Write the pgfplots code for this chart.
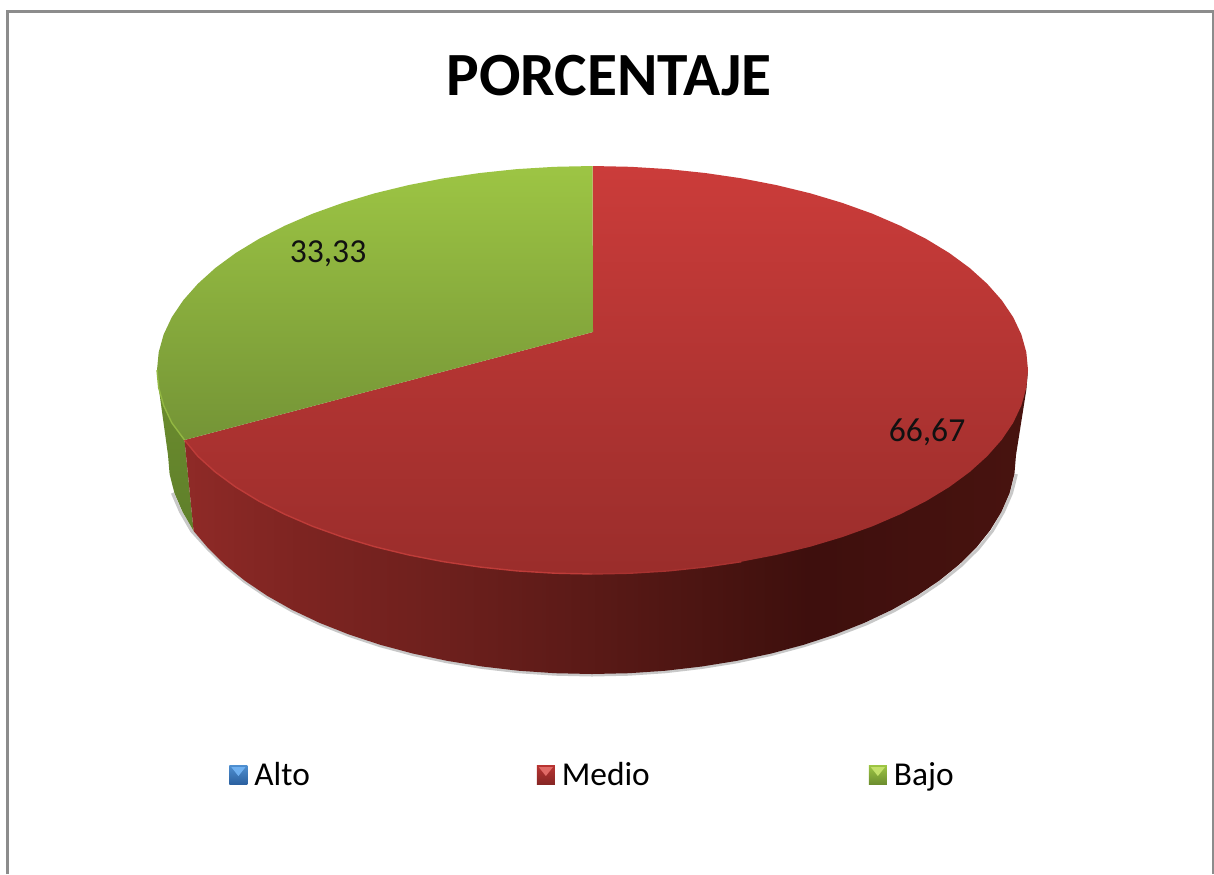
\documentclass[border=0pt]{standalone}
\usepackage{pgfplots}
\pgfplotsset{compat=1.18}
\usepackage{fontspec}
\setmainfont{Carlito}
\definecolor{rs1}{HTML}{8F2A27}
\definecolor{rs2}{HTML}{7D2421}
\definecolor{rs3}{HTML}{6E201D}
\definecolor{rs4}{HTML}{581916}
\definecolor{rs5}{HTML}{42110E}
\definecolor{rs6}{HTML}{3E0F0D}
\definecolor{rs7}{HTML}{48130F}
\definecolor{redtop}{HTML}{CB3C3A}
\definecolor{redbot}{HTML}{9A2D2B}
\definecolor{greentop}{HTML}{9DC544}
\definecolor{greenbot}{HTML}{749436}
\definecolor{greenside}{HTML}{6B8C2E}
\definecolor{greensideb}{HTML}{5F7F2A}
\definecolor{redrim}{HTML}{BE3C39}
\definecolor{redrimb}{HTML}{A83230}
\definecolor{greenrim}{HTML}{93B842}
\definecolor{frame}{HTML}{8C8C8C}
\definecolor{shadow}{HTML}{C8C8C8}
\definecolor{ink}{HTML}{111111}
\definecolor{bluet}{HTML}{4F8FD0}
\definecolor{blueb}{HTML}{2A5F9E}
\definecolor{bluel}{HTML}{6FB0F0}
\definecolor{redt}{HTML}{B83432}
\definecolor{redb}{HTML}{852624}
\definecolor{redl}{HTML}{E06A66}
\definecolor{grnt}{HTML}{9DC544}
\definecolor{grnb}{HTML}{6B8C2E}
\definecolor{grnl}{HTML}{C3E06A}
\pgfdeclarehorizontalshading{redside}{100bp}{
  color(0bp)=(rs1); color(25bp)=(rs1); color(32bp)=(rs2); color(40bp)=(rs3);
  color(50bp)=(rs4); color(60bp)=(rs5); color(62bp)=(rs6); color(75bp)=(rs7); color(100bp)=(rs7)}
\newcommand{\lgdkey}[3]{%
  \path[draw=none] (0pt,0pt) -- (11.5pt,0pt);
  \path[draw=none,top color=#1,bottom color=#2] (0pt,-4.9pt) rectangle (9pt,4.9pt);
  \path[draw=none,fill=#3] (1pt,3.9pt) -- (8pt,3.9pt) -- (4.5pt,-0.5pt) -- cycle;}
\begin{document}
\begin{tikzpicture}
\begin{axis}[
  scale only axis, width=607pt, height=437pt,
  xmin=0, xmax=1214, ymin=0, ymax=874, y dir=reverse,
  hide axis, no markers,
  legend style={at={(axis cs:229,775)},anchor=west,draw=none,fill=none,
    legend columns=3,inner xsep=0pt,inner ysep=0pt,font=\fontsize{16.7}{20}\selectfont,
    nodes={inner xsep=1pt,inner ysep=0pt},
    /tikz/column 2/.style={column sep=112.5pt},
    /tikz/column 4/.style={column sep=108.5pt}},
  legend cell align=left,
]
% legend
\addlegendimage{legend image code/.code={\lgdkey{bluet}{blueb}{bluel}}}
\addlegendentry{Alto}
\addlegendimage{legend image code/.code={\lgdkey{redt}{redb}{redl}}}
\addlegendentry{Medio}
\addlegendimage{legend image code/.code={\lgdkey{grnt}{grnb}{grnl}}}
\addlegendentry{Bajo}
% picture extent
\addplot[forget plot,draw=none] coordinates {(0,0)(1214,874)};
% frame
\addplot[forget plot,draw=frame,line width=1.6pt] coordinates {(7.5,874)(7.5,11.5)(1213.5,11.5)(1213.5,874)};
% shadow below the base
\addplot[forget plot,draw=shadow,line width=1.5pt] coordinates {
(1016.4,474.1)(1011.6,493.0)(1003.5,511.7)(992.4,530.9)(978.3,548.6)(961.2,565.5)(941.3,581.6)(918.8,596.8)(893.8,610.9)(866.5,623.8)(836.2,635.4)(804.0,645.7)(771.2,654.5)(737.0,661.8)(701.7,667.5)(665.6,671.7)(629.0,674.2)(592,675)
(555,674.2)(518.4,671.7)(482.3,667.5)(447,661.8)(412.8,654.5)(380,645.7)(348.8,635.4)(319.5,623.8)(292.2,610.9)(267.2,596.8)(244.7,581.6)(224.8,565.5)(207.7,548.6)(191.6,530.9)(180.5,511.7)(172.4,493.0)};
% green side
\addplot[forget plot,draw=none,top color=greenside,bottom color=greensideb] coordinates {
(184.5,440)(171.8,422.8)(163.6,405.4)(158.7,387.8)(168,455)(169.6,474.1)(174.4,493.0)(182.5,511.7)(193.6,531)} -- cycle;
% red side
\addplot[forget plot,draw=none,shading=redside] coordinates {
(1028,370)(1026.3,390)(1016,455)(1014.4,474.1)(1009.6,493.0)(1001.5,511.7)(990.4,529.9)(976.3,547.6)(959.2,564.5)(939.3,580.6)(916.8,595.8)(891.8,609.9)(864.5,622.8)(835.2,634.4)(804.0,644.7)(771.2,653.5)(737.0,660.8)(701.7,666.5)(665.6,670.7)(629.0,673.2)(592,674)
(555,673.2)(518.4,670.7)(482.3,666.5)(447,660.8)(412.8,653.5)(380,644.7)(348.8,634.4)(319.5,622.8)(292.2,609.9)(267.2,595.8)(244.7,580.6)(224.8,564.5)(207.7,547.6)(193.6,531)(184.5,440)(197.8,456.2)(592,500)} -- cycle;
% red slice, top face
\addplot[forget plot,draw=none,top color=redtop,bottom color=redbot] coordinates {
(593,332)(592.5,166)(630.5,166.8)(668.1,169.1)(705.2,173.0)(741.4,178.3)(776.5,185.1)(810.3,193.3)(842.3,202.9)(872.4,213.7)(900.4,225.8)(926.1,238.9)(949.3,253.0)(969.7,268.0)(987.2,283.8)(1001.7,300.2)(1013.2,317.2)(1021.4,334.6)(1026.3,352.2)
(1028,370)(1026.3,387.8)(1021.4,405.4)(1013.2,422.8)(1001.7,439.8)(987.2,456.2)(969.7,472.0)(949.3,487.0)(926.1,501.1)(900.4,514.2)(872.4,526.3)(842.3,537.1)(810.3,546.7)(776.5,554.9)(741.4,561.7)(705.2,567.0)(668.1,570.9)(630.5,573.2)(592.5,574)
(554.5,573.2)(516.9,570.9)(479.8,567.0)(443.6,561.7)(408.5,554.9)(374.7,546.7)(342.7,537.1)(312.6,526.3)(284.6,514.2)(258.9,501.1)(235.7,487.0)(215.3,472.0)(197.8,456.2)(184.5,440)} -- cycle;
% green slice, top face
\addplot[forget plot,draw=none,top color=greentop,bottom color=greenbot] coordinates {
(593,332)(184.5,440)(171.8,422.8)(163.6,405.4)(158.7,387.8)(157,370)(158.7,352.2)(163.6,334.6)(171.8,317.2)(183.3,300.2)(197.8,283.8)(215.3,268.0)(235.7,253.0)(258.9,238.9)(284.6,225.8)(312.6,213.7)(342.7,202.9)(374.7,193.3)(408.5,185.1)(443.6,178.3)(479.8,173.0)(516.9,169.1)(554.5,166.8)(592.5,166)} -- cycle;
% bevel highlights
\addplot[forget plot,draw=redrimb,line width=0.7pt] coordinates {
(592.5,574)(630.5,573.2)(668.1,570.9)(705.2,567.0)(741.4,561.7)};
\addplot[forget plot,draw=redrim,line width=0.7pt] coordinates {
(184.5,440)(197.8,456.2)(215.3,472.0)(235.7,487.0)(258.9,501.1)(284.6,514.2)(312.6,526.3)(342.7,537.1)(374.7,546.7)(408.5,554.9)(443.6,561.7)(479.8,567.0)(516.9,570.9)(554.5,573.2)(592.5,574)};
\addplot[forget plot,draw=greenrim,line width=0.7pt] coordinates {
(184.5,440)(171.8,422.8)(163.6,405.4)(158.7,387.8)(157,370)};
% texts
\node[font=\bfseries\fontsize{30.7}{35}\selectfont,text=black] at (axis cs:609,76) {PORCENTAJE};
\node[font=\fontsize{16.8}{20}\selectfont,text=ink] at (axis cs:328,254) {33,33};
\node[font=\fontsize{16.8}{20}\selectfont,text=ink] at (axis cs:927,432) {66,67};
\end{axis}
\end{tikzpicture}
\end{document}
